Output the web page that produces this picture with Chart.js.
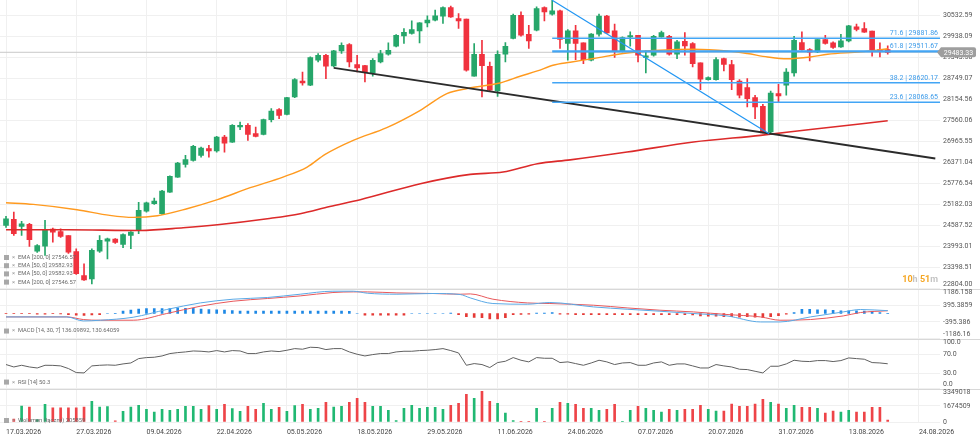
<!DOCTYPE html>
<html>
<head>
<meta charset="utf-8">
<style>
  html, body { margin: 0; padding: 0; background: #fff; }
  #wrap { width: 980px; height: 442px; }
</style>
</head>
<body>
<div id="wrap"><canvas id="wykres" width="980" height="442"></canvas></div>
<script src="https://cdn.jsdelivr.net/npm/chart.js"></script>
<script>
// --- dane (swiece dzienne) ---
const dateLabels = ['17.03.2026','27.03.2026','09.04.2026','22.04.2026','05.05.2026','18.05.2026','29.05.2026',
  '11.06.2026','24.06.2026','07.07.2026','20.07.2026','31.07.2026','13.08.2026','24.08.2026'];
const dateTickIdx = [0, 9, 18, 27, 36, 45, 54, 63, 72, 81, 90, 99, 108, 117];

const opens = [24587,24757,24559,24616,23860,24001,24483,24417,24304,23851,
  23172,23078,23860,24143,24200,24049,24304,24446,24992,25202,
  24918,25530,25955,26314,26427,26569,26759,26691,27087,26945,
  27370,27418,27183,27163,27580,27863,27730,28219,28672,28551,
  29259,29400,29097,29522,29703,29137,29108,28899,29210,29428,
  29655,29946,30014,30088,30314,30391,30504,30750,30439,30419,
  28805,29428,29089,28389,29428,29873,30532,29994,30108,30750,
  30561,30654,29731,30088,29748,29259,29995,30504,30088,29522,
  29918,29966,29335,29400,29918,29938,29428,29796,29731,29182,
  28712,28712,29306,29137,28672,28485,28202,27956,27229,28316,
  28551,28899,29760,29561,29494,29844,29748,29635,29805,30201,
  30156,30080,29561,29561];
const highs = [24842,24964,24701,24644,24049,24729,24511,24494,24304,23928,
  23503,23928,24304,24228,24219,24352,24417,25238,25247,25360,
  25578,25989,26371,26569,26852,26804,26852,27107,27135,27438,
  27512,27466,27370,27597,27891,27891,28211,28740,28927,29352,
  29448,29428,29542,29748,29731,29400,29117,29306,29542,29748,
  29986,30156,30371,30326,30512,30674,30767,30787,30580,30419,
  29731,29825,29210,29522,29760,30561,30626,30249,30767,30767,
  30955,30674,30128,30249,29748,30014,30561,30532,30278,29918,
  30060,29966,29522,29966,30080,29966,29825,30043,29760,29182,
  28786,29335,29323,29259,28712,28740,28268,28013,28390,28579,
  29023,29938,30060,29590,29844,29966,29776,29994,30249,30278,
  30326,30080,29748,29663];
const lows = [24531,24304,24304,23993,23823,23738,24115,24248,23795,23200,
  23030,22937,23823,23644,24078,23956,23928,24352,24964,25182,
  24898,25521,25946,26238,26408,26521,26521,26662,26662,26937,
  27297,26994,27087,27144,27512,27608,27710,28202,28551,28542,
  29210,28740,29069,29448,29069,28927,28644,28806,29182,29400,
  29635,29731,29994,29748,30201,30371,30297,30467,30156,28947,
  28805,28219,28390,28239,29210,29861,29938,29590,30088,30371,
  30532,29590,29259,29278,29165,29239,29938,30014,29335,29493,
  29655,29210,28899,29372,29909,29400,29306,29400,29069,28429,
  28692,28692,28955,28429,28191,27936,27608,27200,27177,28078,
  28268,28806,29542,29239,29476,29711,29590,29618,29776,30088,
  30043,29372,29352,29428];
const closes = [24777,24352,24635,24182,24021,24446,24398,24276,23832,23220,
  23050,23880,24163,24211,24106,24332,24398,25012,25230,25275,
  25558,25974,26351,26447,26824,26776,26691,27087,26917,27418,
  27418,27163,27107,27580,27823,27701,28202,28712,28616,29335,
  29400,29089,29522,29683,29210,29040,28927,29259,29448,29542,
  29966,30051,30128,30314,30391,30512,30750,30484,30371,28975,
  29428,29108,28409,29428,29655,30532,29966,29805,30722,30626,
  30654,29844,30088,29731,29278,29995,30504,30031,29522,29901,
  29958,29400,29380,29938,30043,29428,29777,29663,29165,28721,
  28768,29278,29137,28712,28268,28174,27936,27200,28333,28248,
  28927,29825,29561,29485,29844,29731,29618,29805,30229,30127,
  30051,29561,29513,29483];

const volumes = [350000,300000,1670000,1570000,250000,1850000,1470000,1470000,1470000,1470000,
  1570000,2170000,1570000,1600000,120000,1120000,1570000,1750000,1330000,1050000,
  1330000,1220000,1330000,1640000,1640000,1330000,1710000,1330000,1850000,1400000,
  1120000,1640000,1330000,1950000,1330000,1540000,1120000,1710000,1850000,1330000,
  1430000,2060000,1570000,1640000,2060000,2480000,2060000,1640000,1640000,1220000,
  150000,1430000,1750000,1430000,1540000,1540000,1330000,1750000,1950000,2900000,
  2480000,3210000,2170000,1950000,940000,150000,60000,30000,1430000,60000,
  1430000,2060000,1950000,1850000,1430000,1430000,1220000,1330000,1850000,60000,
  1220000,1640000,1430000,1220000,1050000,1330000,1220000,1330000,1330000,1750000,
  1330000,1150000,1150000,1880000,1640000,1640000,1880000,2370000,2060000,1880000,
  1430000,1750000,1540000,1540000,1430000,940000,1150000,1050000,1220000,1050000,
  1050000,1540000,1540000,205859];

const macdHist = [-10,-10,-10,-10,-30,-30,-10,-20,-60,-80,
  -90,-70,-60,0,15,110,158,205,237,237,
  237,237,269,250,250,205,190,180,158,140,
  110,120,120,120,120,120,120,120,120,120,
  120,120,120,120,100,0,-80,-80,-80,-80,
  -80,-80,0,0,0,0,0,20,-60,-150,
  -180,-200,-260,-260,-200,-60,-40,-30,20,20,
  40,-30,-30,-50,-50,-50,-50,-50,-50,-50,
  -50,-50,-50,-50,-50,-50,-50,-50,-70,-110,
  -130,-130,-150,-150,-170,-150,-170,-190,-150,-100,
  -30,40,200,200,180,180,150,130,130,130,
  110,90,40,5];

const rsiValues = [48.7,43.7,47.2,43.7,41.6,47.2,47,45.9,40.4,32.1,
  31.4,45.9,47.2,47.9,47.2,50,52,61,63.1,63.8,
  66.5,71.4,73.4,74.8,76.8,76.2,74.8,77.6,74.8,77.6,
  76.8,71.4,71.4,74.8,76.8,75.5,78.3,81.7,80.4,84.5,
  83.8,79.7,81.7,81.7,74.8,70,66.5,69.3,71.4,71.4,
  74.8,76.2,76.2,77.6,78.3,79.7,81.7,77.6,72.7,47.2,
  50.7,48.7,42.5,52.8,55.5,63.1,57.6,54.2,63.1,61.7,
  61.7,52.8,54.2,50.7,47.2,52,57.6,54.2,48.7,52,
  52.8,47.2,47.2,52,54.2,47.2,50,50,45.9,41.6,
  41.6,48.7,45.9,43.7,39,38.3,34.8,31.4,45.2,45.2,
  50,57.6,55.5,54.9,56.9,56.9,54.9,56.9,62.4,61,
  59.7,52.8,52,50.3];

// linie odczytane punktowo (indeks swiecy, wartosc)
const ema50Idx = [0,3.5,9.1,13.3,16.3,19.4,23.2,27.1,31.3,35.5,38.6,40.9,44.5,48.8,53.1,56.5,59.1,61.7,63.3,65.9,
  68.1,70.1,72.3,75.3,79.6,83.8,88.1,92.4,95,97.6,100.1,103.1,105.3,109.5,113];
const ema50Val = [25230,25182,25032,24871,24814,24862,25060,25315,25655,25955,26238,26597,26994,27353,27843,28316,28457,28551,28616,28806,
  28956,29117,29202,29307,29465,29542,29570,29522,29448,29352,29301,29352,29428,29494,29583];
const ema200Idx = [0,7.8,17.2,22.7,27.1,33.5,37.7,41.5,45.4,53.1,59.5,63.7,68.1,72.3,79.6,88.1,96.7,103.1,113];
const ema200Val = [24466,24466,24446,24522,24607,24777,24919,25125,25315,25768,26031,26096,26334,26442,26663,26946,27135,27300,27547];

const macdIdx = [0,7.8,9.9,12.1,16.3,20.6,24.9,29.1,33.5,37.7,41.9,44.5,46.3,50.1,54.7,58.2,59.5,62.4,66.8,69.7,
  75.3,79.6,83.8,88.1,92.4,96.7,99.2,103.1,107.3,109.5,113];
const macdLine = [-161,-161,-351,-318,-176,190,503,679,759,916,1058,1058,963,916,949,901,740,474,441,522,
  313,204,109,0,-114,-399,-399,-161,76,190,136];
const signalLine = [-161,-161,-285,-318,-318,0,346,584,712,835,996,1025,1025,977,949,916,930,679,503,474,
  394,266,157,76,-47,-161,-318,-285,-114,47,131];

const fibRatios = ['71.6', '61.8', '38.2', '23.6'];
const fibValues = [29881.86, 29511.67, 28620.17, 28068.65];
const fibIdx = [70, 119.8];
const diagIdx = [70, 97.8];
const diagVal = [30954.6, 27177];
const trendIdx = [42, 119.1];
const trendVal = [29043, 26481];
const lastPrice = 29483.33;

const priceTicks = [22804.00,23398.51,23993.01,24587.52,25182.03,25776.54,26371.04,26965.55,27560.06,28154.56,28749.07,29343.58,29938.09,30532.59];
const macdTicks = [-1186.16, -395.386, 395.3859, 1186.158];
const macdTickLabels = ['-1186.16', '-395.386', '395.3859', '1186.158'];
const rsiTicks = [0, 30, 70, 100];
const volTicks = [0, 1674509, 3349018];

const legendTexts = ['EMA [200, 0] 27546.57', 'EMA [50, 0] 29582.93', 'EMA [50, 0] 29582.93', 'EMA [200, 0] 27546.57'];
const macdLegend = 'MACD [14, 30, 7] 136.09892, 130.64059';
const rsiLegend = 'RSI [14] 50.3';
const volLegend = 'Wolumen (łączny) 205859';

// --- kolory ---
const GREEN = '#26a66a';
const RED = '#f0323e';
const VGREEN = '#20b872';
const VRED = '#ee4448';
const FONT = 'Roboto, "Liberation Sans", sans-serif';

function pary(idx, vals) {
  return idx.map((x, i) => ({ x: x, y: vals[i] }));
}
const isUp = i => closes[i] >= opens[i];

// etykiety osi Y, legendy, opisy fibo
const dodatki = {
  id: 'dodatki',
  beforeDatasetsDraw(chart) {
    const ctx = chart.ctx, a = chart.chartArea;
    ctx.save();
    ctx.strokeStyle = '#d8d8d8';
    ctx.lineWidth = 1;
    ['yMacd', 'yRsi', 'yVol'].forEach(id => {
      const y = Math.round(chart.scales[id].top) + 0.5;
      ctx.beginPath(); ctx.moveTo(a.left, y); ctx.lineTo(chart.width, y); ctx.stroke();
    });
    ctx.restore();
  },
  afterDraw(chart) {
    const ctx = chart.ctx, a = chart.chartArea;
    ctx.save();
    ctx.font = '7px ' + FONT;
    ctx.textBaseline = 'middle';
    ctx.textAlign = 'left';

    // etykiety osi po prawej
    const osie = [
      { id: 'y', vals: priceTicks, txt: priceTicks.map(v => v.toFixed(2)), clampBottom: true },
      { id: 'yMacd', vals: macdTicks, txt: macdTickLabels, clampBottom: true },
      { id: 'yRsi', vals: rsiTicks, txt: rsiTicks.map(v => v.toFixed(1)), clampBottom: true },
      { id: 'yVol', vals: volTicks, txt: volTicks.map(v => String(v)), clampBottom: false }
    ];
    ctx.fillStyle = '#555';
    osie.forEach(o => {
      const s = chart.scales[o.id];
      o.vals.forEach((v, i) => {
        let y = s.getPixelForValue(v);
        y = Math.max(y, s.top + 4);
        if (o.clampBottom) y = Math.min(y, s.bottom - 4);
        ctx.fillText(o.txt[i], a.right + 3, y);
      });
    });

    // ramka z aktualna cena
    const yp = chart.scales.y.getPixelForValue(lastPrice);
    const bx = a.right + 1;
    ctx.fillStyle = '#9e9e9e';
    ctx.beginPath();
    ctx.moveTo(bx - 4, yp);
    ctx.lineTo(bx, yp - 5);
    ctx.lineTo(bx + 33, yp - 5);
    ctx.quadraticCurveTo(bx + 35, yp - 5, bx + 35, yp - 3);
    ctx.lineTo(bx + 35, yp + 3);
    ctx.quadraticCurveTo(bx + 35, yp + 5, bx + 33, yp + 5);
    ctx.lineTo(bx, yp + 5);
    ctx.closePath();
    ctx.fill();
    ctx.fillStyle = '#fff';
    ctx.textAlign = 'center';
    ctx.fillText(lastPrice.toFixed(2), bx + 17.5, yp + 0.5);

    // opisy poziomow fibo
    ctx.textAlign = 'right';
    ctx.fillStyle = '#3d9be9';
    fibValues.forEach((v, i) => {
      const y = chart.scales.y.getPixelForValue(v);
      ctx.fillText(fibRatios[i] + ' | ' + v.toFixed(2), a.right - 2, y - 5);
    });

    // licznik czasu
    ctx.font = 'bold 9px ' + FONT;
    const czesci = [['10', '#f5a623'], ['h ', '#c4c4c4'], ['51', '#f5a623'], ['m', '#c4c4c4']];
    let xr = a.right - 2;
    const yl = chart.scales.y.bottom - 9;
    for (let i = czesci.length - 1; i >= 0; i--) {
      ctx.fillStyle = czesci[i][1];
      ctx.fillText(czesci[i][0], xr, yl);
      xr -= ctx.measureText(czesci[i][0]).width;
    }

    // legendy paneli
    ctx.font = '5.8px ' + FONT;
    ctx.textAlign = 'left';
    const wpis = (y, t) => {
      ctx.fillStyle = '#a8a8a8';
      ctx.fillRect(4, y - 2.5, 5, 5);
      ctx.fillStyle = '#999';
      ctx.fillText('×', 12, y);
      ctx.fillStyle = '#6a6a6a';
      ctx.fillText(t, 18, y);
    };
    const yMain = chart.scales.y.bottom;
    legendTexts.forEach((t, i) => wpis(yMain - 31 + i * 8.2, t));
    wpis(chart.scales.yMacd.bottom - 7.5, macdLegend);
    wpis(chart.scales.yRsi.bottom - 6.5, rsiLegend);
    wpis(chart.scales.yVol.bottom - 1.5, volLegend);
    ctx.restore();
  }
};

const idxAll = opens.map((o, i) => i);

new Chart(document.getElementById('wykres'), {
  type: 'line',
  data: {
    datasets: [
      // linie rysunkowe (na wierzchu)
      ...fibValues.map((v, i) => ({
        type: 'line', yAxisID: 'y', order: 1,
        data: pary(fibIdx, [v, v]),
        borderColor: '#42a5f5', borderWidth: i === 1 ? 2.2 : 1.6, pointRadius: 0
      })),
      {
        type: 'line', yAxisID: 'y', order: 1,
        data: pary(diagIdx, diagVal),
        borderColor: '#2196f3', borderWidth: 1.2, pointRadius: 0
      },
      {
        type: 'line', yAxisID: 'y', order: 1,
        data: pary(trendIdx, trendVal),
        borderColor: '#2b2b2b', borderWidth: 2, pointRadius: 0
      },
      // srednie
      {
        type: 'line', yAxisID: 'y', order: 3,
        data: pary(ema50Idx, ema50Val),
        borderColor: '#ff9a1f', borderWidth: 1.4, pointRadius: 0, cubicInterpolationMode: 'monotone'
      },
      {
        type: 'line', yAxisID: 'y', order: 3,
        data: pary(ema200Idx, ema200Val),
        borderColor: '#dc2a2a', borderWidth: 1.6, pointRadius: 0, cubicInterpolationMode: 'monotone'
      },
      // swiece: knoty i korpusy
      {
        type: 'bar', yAxisID: 'y', order: 6, grouped: false,
        data: idxAll.map(i => ({ x: i, y: [lows[i], highs[i]] })),
        backgroundColor: c => isUp(c.dataIndex) ? GREEN : RED,
        barThickness: 1, borderWidth: 0
      },
      {
        type: 'bar', yAxisID: 'y', order: 5, grouped: false,
        data: idxAll.map(i => ({ x: i, y: [opens[i], closes[i]] })),
        backgroundColor: c => isUp(c.dataIndex) ? GREEN : RED,
        barThickness: 5, borderWidth: 0, minBarLength: 1
      },
      // linia ceny biezacej
      {
        type: 'line', yAxisID: 'y', order: 9,
        data: pary([-1, 121], [lastPrice, lastPrice]),
        borderColor: '#c9c9c9', borderWidth: 1, pointRadius: 0
      },
      // MACD
      {
        type: 'bar', yAxisID: 'yMacd', order: 6, grouped: false,
        data: idxAll.map(i => ({ x: i, y: macdHist[i] })),
        backgroundColor: c => macdHist[c.dataIndex] >= 0 ? '#1e88e5' : '#e53935',
        barThickness: 2, borderWidth: 0
      },
      {
        type: 'line', yAxisID: 'yMacd', order: 3,
        data: pary(macdIdx, macdLine),
        borderColor: '#5aa9e6', borderWidth: 1, pointRadius: 0, cubicInterpolationMode: 'monotone'
      },
      {
        type: 'line', yAxisID: 'yMacd', order: 3,
        data: pary(macdIdx, signalLine),
        borderColor: '#e8585b', borderWidth: 1, pointRadius: 0, cubicInterpolationMode: 'monotone'
      },
      // RSI
      {
        type: 'line', yAxisID: 'yRsi', order: 3,
        data: idxAll.map(i => ({ x: i, y: rsiValues[i] })),
        borderColor: '#606060', borderWidth: 1, pointRadius: 0, tension: 0
      },
      // wolumen
      {
        type: 'bar', yAxisID: 'yVol', order: 6, grouped: false,
        data: idxAll.map(i => ({ x: i, y: volumes[i] })),
        backgroundColor: c => isUp(c.dataIndex) ? VGREEN : VRED,
        barThickness: 2, borderWidth: 0
      }
    ]
  },
  options: {
    responsive: false,
    animation: false,
    events: [],
    layout: { padding: 0 },
    plugins: { legend: { display: false }, tooltip: { enabled: false } },
    scales: {
      x: {
        type: 'linear', position: 'bottom', min: -0.77, max: 119.7,
        offset: false,
        grid: { color: '#f0f0f0', drawTicks: false, offset: false },
        border: { display: false },
        afterBuildTicks: s => { s.ticks = dateTickIdx.map(v => ({ value: v })); },
        afterFit: s => { s.height = 20; },
        ticks: {
          autoSkip: false, maxRotation: 0, align: 'start', padding: 6,
          color: '#444', font: { family: FONT, size: 7 },
          callback: v => dateLabels[dateTickIdx.indexOf(v)]
        }
      },
      y: {
        position: 'right', stack: 'panele', stackWeight: 288.3,
        min: 22804, max: 30962,
        grid: { color: '#f0f0f0', drawTicks: false },
        border: { display: false },
        ticks: { display: false },
        afterBuildTicks: s => { s.ticks = priceTicks.map(v => ({ value: v })); },
        afterFit: s => { s.width = 40; }
      },
      yMacd: {
        position: 'right', stack: 'panele', stackWeight: 50,
        min: -1186.16, max: 1186.16,
        grid: { color: '#f0f0f0', drawTicks: false },
        border: { display: false },
        ticks: { display: false },
        afterBuildTicks: s => { s.ticks = macdTicks.map(v => ({ value: v })); },
        afterFit: s => { s.width = 40; }
      },
      yRsi: {
        position: 'right', stack: 'panele', stackWeight: 50,
        min: -1, max: 102.5,
        grid: { color: '#f0f0f0', drawTicks: false },
        border: { display: false },
        ticks: { display: false },
        afterBuildTicks: s => { s.ticks = rsiTicks.map(v => ({ value: v })); },
        afterFit: s => { s.width = 40; }
      },
      yVol: {
        position: 'right', stack: 'panele', stackWeight: 33.4,
        min: 0, max: 3495500,
        grid: { color: '#f0f0f0', drawTicks: false },
        border: { display: false },
        ticks: { display: false },
        afterBuildTicks: s => { s.ticks = volTicks.map(v => ({ value: v })); },
        afterFit: s => { s.width = 40; }
      }
    }
  },
  plugins: [dodatki]
});
</script>
</body>
</html>
